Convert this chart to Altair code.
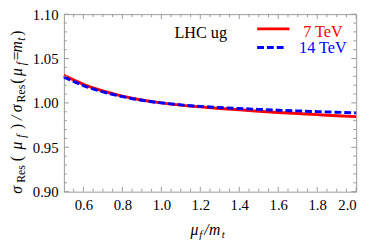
import altair as alt
import pandas as pd

# ---- data ----
mu_ratio = [0.5, 0.6, 0.7, 0.8, 0.9, 1.0, 1.1, 1.2, 1.3, 1.4, 1.5, 1.6, 1.7, 1.8, 1.9, 2.0]
lhc7 = [1.031, 1.021, 1.0134, 1.0076, 1.0032, 1.000, 0.9975, 0.9955, 0.9938, 0.9922,
        0.9907, 0.9893, 0.9880, 0.9868, 0.9856, 0.9845]
lhc14 = [1.029, 1.0196, 1.0125, 1.0071, 1.0030, 1.000, 0.9978, 0.9961, 0.9948, 0.9937,
         0.9927, 0.9918, 0.9910, 0.9902, 0.9895, 0.9888]

x_labels = [0.6, 0.8, 1.0, 1.2, 1.4, 1.6, 1.8, 2.0]
x_minor = [0.55, 0.65, 0.7, 0.75, 0.85, 0.9, 0.95, 1.05, 1.1, 1.15, 1.25, 1.3, 1.35,
           1.45, 1.5, 1.55, 1.65, 1.7, 1.75, 1.85, 1.9, 1.95]
y_labels = [0.90, 0.95, 1.00, 1.05, 1.10]
y_minor = [0.91, 0.92, 0.93, 0.94, 0.96, 0.97, 0.98, 0.99, 1.01, 1.02, 1.03, 1.04,
           1.06, 1.07, 1.08, 1.09]

W, H = 298, 181
FONT = "Liberation Serif"
FRAME = "#9a9a9a"

xs = alt.Scale(domain=[0.5, 2.0], nice=False, zero=False)
ys = alt.Scale(domain=[0.9, 1.1], nice=False, zero=False)

df7 = pd.DataFrame({"x": mu_ratio, "y": lhc7})
df14 = pd.DataFrame({"x": mu_ratio, "y": lhc14})

x_axis = alt.Axis(values=x_labels, format=".1f", title=None, ticks=False, domain=False,
                  grid=False, labelFont=FONT, labelFontSize=15, labelColor="black",
                  labelPadding=6)
y_axis = alt.Axis(values=y_labels, format=".2f", title=None, ticks=False, domain=False,
                  grid=False, labelFont=FONT, labelFontSize=15, labelColor="black",
                  labelPadding=6)

red = alt.Chart(df7).mark_line(color="#ff0000", strokeWidth=3, interpolate="natural").encode(
    x=alt.X("x:Q", scale=xs, axis=x_axis),
    y=alt.Y("y:Q", scale=ys, axis=y_axis),
)
blue = alt.Chart(df14).mark_line(color="#0000ff", strokeWidth=3, strokeDash=[7, 3],
                                 interpolate="natural").encode(
    x=alt.X("x:Q", scale=xs),
    y=alt.Y("y:Q", scale=ys),
)


def xticks(vals, y0, y1):
    return alt.Chart(pd.DataFrame({"x": vals})).mark_rule(color=FRAME, strokeWidth=1).encode(
        x=alt.X("x:Q", scale=xs), y=alt.value(y0), y2=alt.value(y1))


def yticks(vals, x0, x1):
    return alt.Chart(pd.DataFrame({"y": vals})).mark_rule(color=FRAME, strokeWidth=1).encode(
        y=alt.Y("y:Q", scale=ys), x=alt.value(x0), x2=alt.value(x1))


ticks = [
    xticks(x_labels, H, H - 5), xticks(x_minor, H, H - 3),
    xticks(x_labels, 0, 5), xticks(x_minor, 0, 3),
    yticks(y_labels, 0, 5), yticks(y_minor, 0, 3),
    yticks(y_labels, W, W - 5), yticks(y_minor, W, W - 3),
]


def txt(s, x, y, size=16, color="black", style="normal", angle=0, align="left",
        baseline="alphabetic"):
    kw = dict(text=s, font=FONT, fontSize=size, color=color, fontStyle=style,
              align=align, baseline=baseline)
    if angle:
        kw["angle"] = angle
    return alt.Chart(df7.head(1)).mark_text(**kw).encode(x=alt.value(x), y=alt.value(y))


# legend
legend = [
    txt("LHC ug", 139.5, 24, size=16.5, align="center"),
    alt.Chart(df7.head(1)).mark_rule(color="#ff0000", strokeWidth=3).encode(
        x=alt.value(197), x2=alt.value(230), y=alt.value(15)),
    alt.Chart(df7.head(1)).mark_rule(color="#0000ff", strokeWidth=3, strokeDash=[7, 3]).encode(
        x=alt.value(197), x2=alt.value(225), y=alt.value(34)),
    txt("7 TeV", 264, 23, size=16.5, color="#ff0000", align="center"),
    txt("14 TeV", 264, 40, size=16.5, color="#0000ff", align="center"),
]

# x-axis title  mu_f / m_t
xt_y = 225
xtitle = [
    txt("μ", 129, xt_y, style="italic"),
    txt("f", 138, xt_y + 3, size=11, style="italic"),
    txt("/", 143, xt_y, style="italic"),
    txt("m", 148, xt_y, style="italic"),
    txt("t", 161, xt_y + 3, size=11, style="italic"),
]

# y-axis title  sigma_Res(mu_f)/sigma_Res(mu_f=m_t), rotated
MX, SX = -43, -40
pieces = [
    ("σ", 183, 16, "italic", MX), ("Res", 172, 12, "normal", SX), ("(", 150, 16, "normal", MX),
    ("μ", 138, 16, "italic", MX), ("f", 126, 12, "italic", SX), (")", 117, 16, "normal", MX),
    ("/", 108, 16, "italic", MX), ("σ", 100, 16, "italic", MX), ("Res", 90, 12, "normal", SX),
    ("(", 71, 16, "normal", MX), ("μ", 63, 16, "italic", MX), ("f", 52, 12, "italic", SX),
    ("=", 47, 16, "normal", MX), ("m", 39, 16, "italic", MX), ("t", 27, 12, "italic", SX),
    (")", 22, 16, "normal", MX),
]
ytitle = [txt(s, x, y, size=sz, style=st, angle=270) for s, y, sz, st, x in pieces]

chart = alt.layer(red, blue, *ticks, *legend, *xtitle, *ytitle).properties(
    width=W, height=H,
    autosize=alt.AutoSizeParams(type="none"),
    padding={"left": 57, "top": 4, "right": 10, "bottom": 47},
).configure_view(stroke=FRAME, strokeWidth=1)

chart.save("out.html", embed_options={"renderer": "svg", "actions": False})
